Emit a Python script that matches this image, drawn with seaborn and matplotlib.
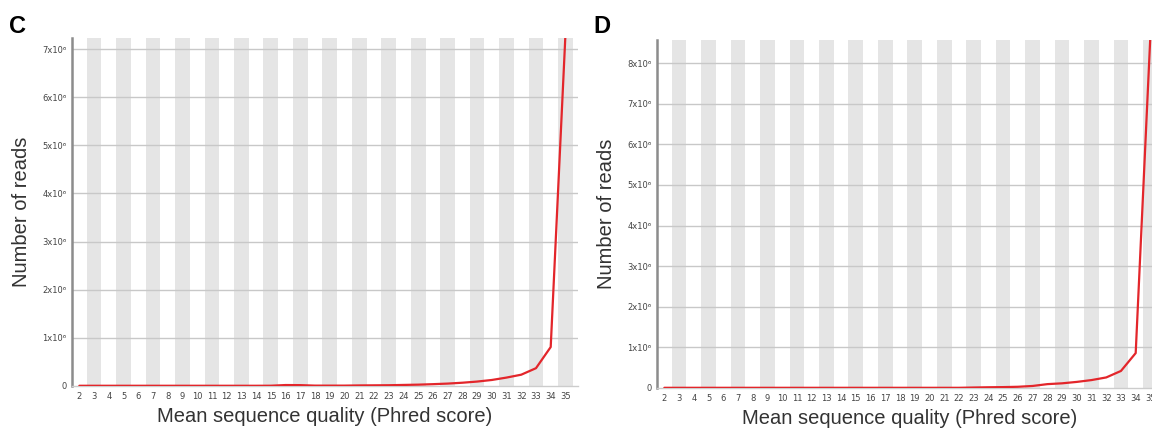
import matplotlib
matplotlib.use("Agg")
import matplotlib.pyplot as plt
import seaborn as sns

# Mean sequence quality (Phred score) categories
quality = list(range(2, 36))

# Panel C: number of reads per mean quality score
reads_c = [5000, 5000, 5000, 5000, 5000, 5000, 5000, 5000, 5000, 5000,
           5000, 5000, 5000, 6000, 20000, 18000, 8000, 8000, 8000, 12000,
           14000, 16000, 22000, 28000, 38000, 50000, 68000, 92000, 125000, 175000,
           235000, 370000, 810000, 7300000]

# Panel D: number of reads per mean quality score
reads_d = [5000, 5000, 5000, 5000, 5000, 5000, 5000, 5000, 5000, 5000,
           5000, 5000, 5000, 5000, 5000, 5000, 5000, 5000, 5000, 5000,
           5000, 12000, 18000, 22000, 30000, 50000, 95000, 115000, 150000, 195000,
           260000, 420000, 860000, 8700000]

yticks_c = [0, 1e6, 2e6, 3e6, 4e6, 5e6, 6e6, 7e6]
yticks_d = [0, 1e6, 2e6, 3e6, 4e6, 5e6, 6e6, 7e6, 8e6]
ytick_labels_c = ["0"] + [f"{i}x10\u2076" for i in range(1, 8)]
ytick_labels_d = ["0"] + [f"{i}x10\u2076" for i in range(1, 9)]

sns.set_style("white")
plt.rcParams['font.family'] = ['Liberation Sans', 'DejaVu Sans']

fig = plt.figure(figsize=(11.52, 4.34), dpi=100)
ax_c = fig.add_axes([0.0625, 0.1106, 0.4392, 0.8018])
ax_d = fig.add_axes([0.5703, 0.1060, 0.4392, 0.8018])


def draw_panel(ax, reads, yticks, ylabels, ymax, letter, letter_x):
    # alternating grey bands on odd quality scores
    for q in quality:
        if q % 2 == 1:
            ax.axvspan(q - 0.5, q + 0.5, color='#e5e5e5', lw=0, zorder=0)
    for t in yticks[1:]:
        ax.axhline(t, color='#c8c8c8', lw=1.0, zorder=1)
    sns.lineplot(x=quality, y=reads, ax=ax, color='#e3262b', linewidth=1.6, zorder=3)
    ax.set_xlim(1.5, 35.85)
    ax.set_ylim(0, ymax)
    ax.set_xticks(quality)
    ax.set_xticklabels([str(q) for q in quality], fontsize=6, color='#444444',
                       family='DejaVu Sans')
    ax.set_yticks(yticks)
    ax.set_yticklabels(ylabels, fontsize=6, color='#444444', family='DejaVu Sans')
    ax.tick_params(axis='both', length=0, pad=4)
    for s in ['top', 'right']:
        ax.spines[s].set_visible(False)
    ax.spines['left'].set_color('#8c8c8c')
    ax.spines['left'].set_linewidth(1.8)
    ax.spines['bottom'].set_color('#cccccc')
    ax.spines['bottom'].set_linewidth(1.0)
    ax.set_xlabel('Mean sequence quality (Phred score)', fontsize=14.5, color='#333333',
                  labelpad=5)
    ax.set_ylabel('Number of reads', fontsize=14.5, color='#333333', labelpad=8)
    fig.text(letter_x, 0.965, letter, fontsize=17, fontweight='bold', color='black',
             ha='left', va='top')


draw_panel(ax_c, reads_c, yticks_c, ytick_labels_c, 7.23e6, 'C', 0.008)
draw_panel(ax_d, reads_d, yticks_d, ytick_labels_d, 8.57e6, 'D', 0.515)

fig.savefig('out.png', dpi=100, facecolor='white')
